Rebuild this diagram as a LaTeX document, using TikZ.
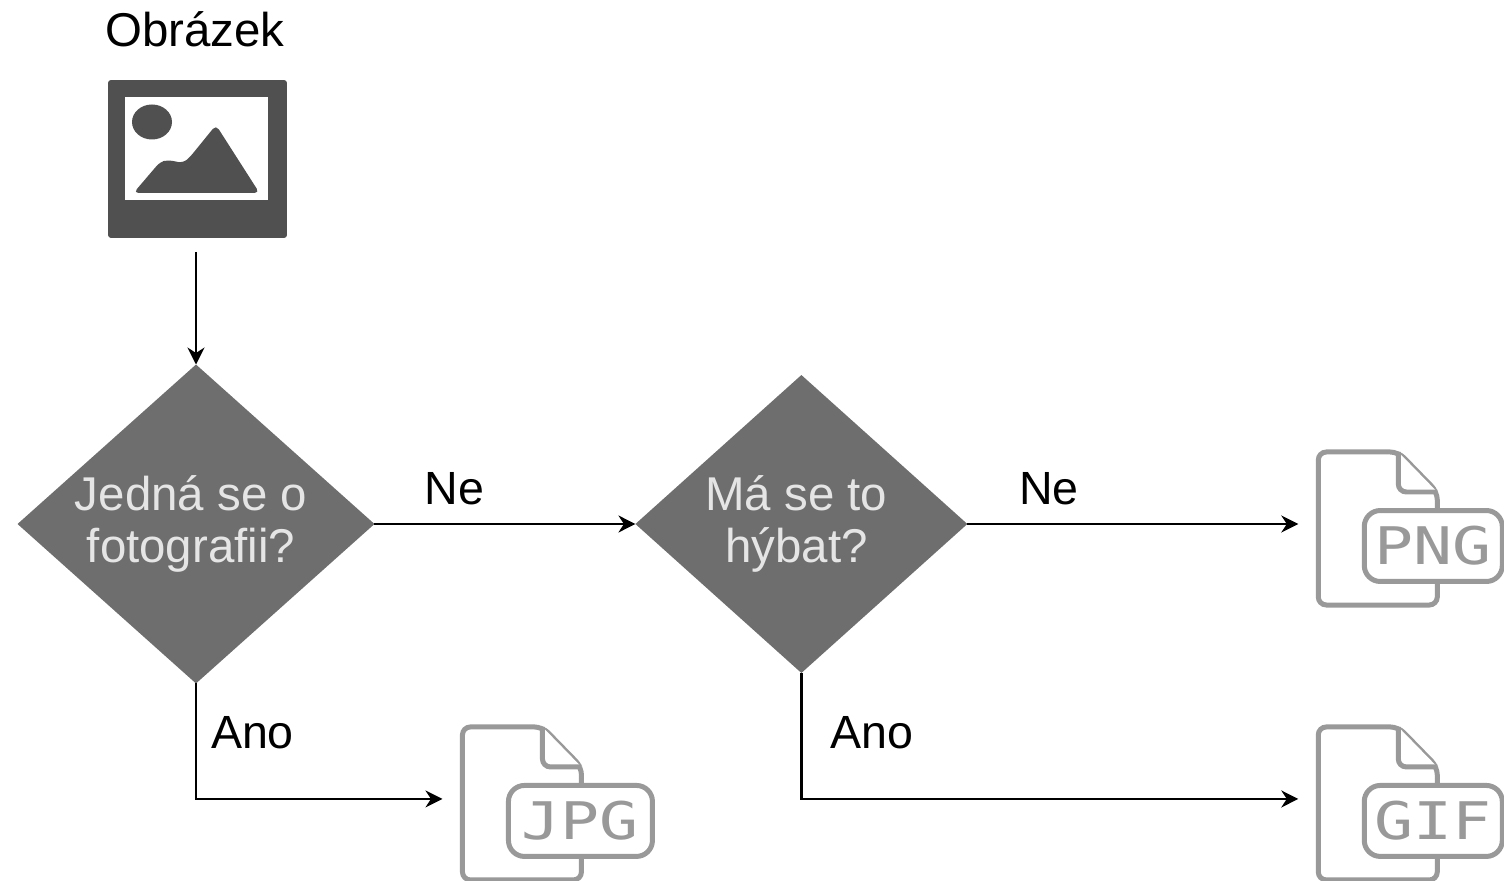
\documentclass[tikz,border=0pt]{standalone}
\usepackage{fontspec}
\setmainfont{Liberation Sans}
\newfontface\filefont{DejaVu Sans Mono}[FakeStretch=1.25]
\usetikzlibrary{shapes.geometric,arrows.meta,positioning}

\definecolor{icondark}{HTML}{505050}
\definecolor{diamondgray}{HTML}{6E6E6E}
\definecolor{filegray}{HTML}{999999}

% file icon drawn inside an empty box node
\newcommand{\fileicon}[3]{%
  \begin{scope}[shift={(#1.west)}]
    \draw[fileline] (20,-72) -- (100,-72) -- (139,-32) -- (139,81) -- (20,81) -- cycle;
    \draw[fileline] (100,-72) -- (100,-32) -- (139,-32);
    \node[filelabel,minimum width=#3*0.02cm,anchor=west] (#1label) at (66,22) {#2};
  \end{scope}%
}

\begin{document}
\begin{tikzpicture}[x=0.02cm,y=-0.02cm,
    node distance=2cm,
    every node/.style={font=\fontsize{27}{30}\selectfont,outer sep=0pt},
    question/.style={diamond,aspect=1.12,inner sep=0pt,fill=diamondgray,text=white!90!black,align=center},
    iconbox/.style={rectangle,minimum width=4.12cm,minimum height=3.2cm,inner sep=0pt},
    picbox/.style={rectangle,rounded corners=0.06cm,minimum width=3.58cm,minimum height=3.16cm,fill=icondark},
    fileline/.style={draw=filegray,line width=0.1cm,rounded corners=0.16cm,fill=white},
    filelabel/.style={rectangle,draw=filegray,line width=0.1cm,rounded corners=0.32cm,fill=white,text=filegray,
      minimum height=1.42cm,inner sep=0pt,font=\filefont\fontsize{29.5}{30}\selectfont},
    answer/.style={inner sep=0pt,font=\fontsize{26.5}{30}\selectfont},
    arrow/.style={-{Stealth[length=0.34cm,width=0.34cm]},line width=0.045cm}
]
\useasboundingbox (0,0) rectangle (1504,881);

% Input picture
\node[picbox] (picture) at (197.5,159) {};
\node[above=0.66cm of picture,xshift=-0.05cm,inner sep=0pt] (title) {Obrázek};
\begin{scope}[shift={(picture.center)}]
  \fill[white] (-72.5,-62) rectangle (70.5,41);
  \fill[icondark] (-45.5,-37) ellipse [x radius=20,y radius=17.5];
  \fill[icondark,rounded corners=0.1cm] (-64,34) -- (-37.5,3) -- (-29.5,1) -- (-14.5,4) -- (-7.5,-2)
    -- (18.5,-34) -- (62,34) -- cycle;
\end{scope}

% Questions
\node[question,minimum width=7.14cm,minimum height=6.38cm] (photo) at (196,524) {Jedná se o\hspace*{0.2cm}\\fotografii?\hspace*{0.2cm}};
\node[question,minimum width=6.64cm,minimum height=5.96cm,right=5.22cm of photo] (motion) {Má se to\hspace*{0.2cm}\\hýbat?\hspace*{0.2cm}};

% Output formats
\node[iconbox,right=6.62cm of motion] (png) {};
\node[iconbox,below=2.3cm of png] (gif) {};
\node[iconbox,minimum width=4.24cm,left=12.88cm of gif] (jpg) {};
\fileicon{png}{PNG}{138}
\fileicon{gif}{GIF}{138}
\fileicon{jpg}{JPG}{144}

% Connections
\draw[arrow,shorten <=0.28cm] (photo |- picture.south) -- (photo);
\draw[arrow] (photo) -- (motion);
\draw[arrow] (motion) -- (png);
\draw[arrow] (photo) |- (jpg);
\draw[arrow] (motion) |- (gif);

% Labels
\node[answer,above right=0.38cm and 1cm of photo.east] (photono) {Ne};
\node[answer,above right=0.38cm and 1.04cm of motion.east] (motionno) {Ne};
\node[answer,below right=0.66cm and 0.3cm of photo.south] (photoyes) {Ano};
\node[answer,below right=0.88cm and 0.58cm of motion.south] (motionyes) {Ano};

\end{tikzpicture}
\end{document}
